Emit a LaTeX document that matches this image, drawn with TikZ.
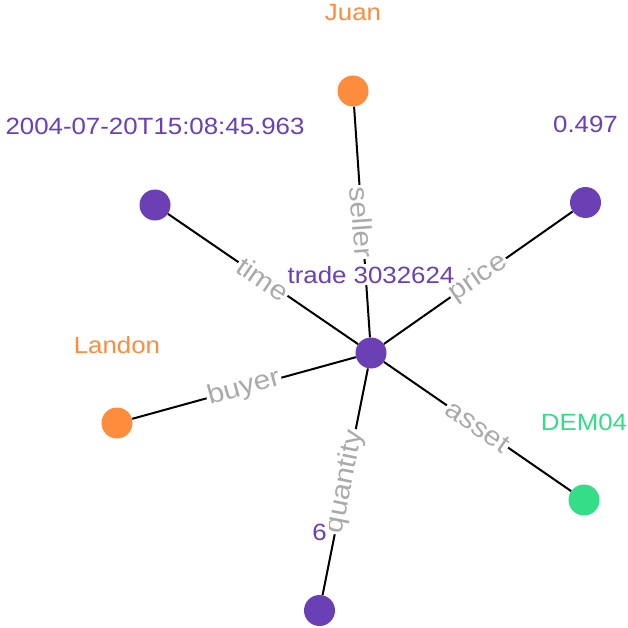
\documentclass[tikz,border=0pt]{standalone}
\usepackage{fontspec}
\setmainfont{Liberation Sans}[FakeStretch=1.1]
\usetikzlibrary{backgrounds}
\definecolor{tpurple}{RGB}{106,64,180}
\definecolor{torange}{RGB}{253,141,60}
\definecolor{tgreen}{RGB}{52,222,136}
\definecolor{tgray}{RGB}{170,170,170}
\begin{document}
\begin{tikzpicture}[x=1pt,y=-1pt,
  vert/.style={circle,minimum size=31pt,inner sep=0pt},
  vlabel/.style={anchor=base,font=\fontsize{23.5}{28}\selectfont,inner sep=2pt,fill=white},
  link/.style={draw=black,line width=2pt},
  elabel/.style={midway,sloped,fill=white,text=tgray,font=\fontsize{27}{32}\selectfont,inner sep=1.5pt}]
\useasboundingbox (0,0) rectangle (628,628);
% vertices
\node[vert,fill=tpurple] (c) at (371,353) {};
\node[vert,fill=torange] (j) at (353,91) {};
\node[vert,fill=tpurple] (t) at (155,205) {};
\node[vert,fill=tpurple] (p) at (585.5,202.5) {};
\node[vert,fill=torange] (b) at (117,423) {};
\node[vert,fill=tgreen] (a) at (584,500) {};
\node[vert,fill=tpurple] (q) at (319.5,610.5) {};
% labels
\node[vlabel,text=tpurple] (lc) at (371,283) {trade 3032624};
\node[vlabel,text=torange] (lj) at (353,21) {Juan};
\node[vlabel,text=tpurple] (lt) at (155,135) {2004-07-20T15:08:45.963};
\node[vlabel,text=tpurple] (lp) at (585.5,132.5) {0.497};
\node[vlabel,text=torange] (lb) at (117,353) {Landon};
\node[vlabel,text=tgreen] (la) at (584,430) {DEM04};
\node[vlabel,text=tpurple] (lq) at (319.5,540.5) {6};
% edges
\begin{scope}[on background layer]
\draw[link] (j) -- node[elabel]{seller} (c);
\draw[link] (t) -- node[elabel]{time} (c);
\draw[link] (c) -- node[elabel]{price} (p);
\draw[link] (b) -- node[elabel]{buyer} (c);
\draw[link] (c) -- node[elabel]{asset} (a);
\draw[link] (q) -- node[elabel]{quantity} (c);
\end{scope}
\end{tikzpicture}
\end{document}
